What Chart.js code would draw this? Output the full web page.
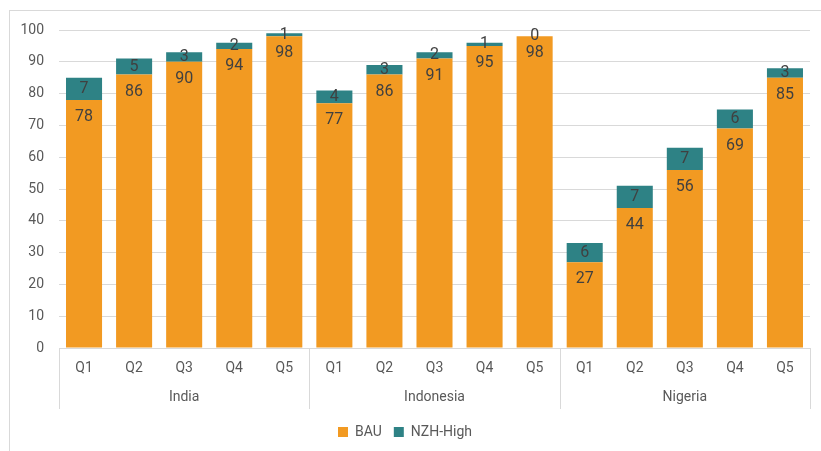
<!DOCTYPE html>
<html>
<head>
<meta charset="utf-8">
<script src="https://cdn.jsdelivr.net/npm/chart.js@4.4.1/dist/chart.umd.min.js"></script>
<style>
  html, body { margin: 0; padding: 0; background: #fff; }
  #wrap { position: relative; width: 821px; height: 451px; overflow: hidden; }
  #frame { position: absolute; left: 9px; top: 10px; width: 830px; height: 460px; border: 1px solid #d9d9d9; box-sizing: border-box; }
  canvas { position: absolute; left: 0; top: 0; }
</style>
</head>
<body>
<div id="wrap">
  <div id="frame"></div>
  <canvas id="chart" width="821" height="451"></canvas>
</div>
<script>
const countries = ['India', 'Indonesia', 'Nigeria'];
const quintiles = ['Q1', 'Q2', 'Q3', 'Q4', 'Q5'];
const bauValues = [78, 86, 90, 94, 98, 77, 86, 91, 95, 98, 27, 44, 56, 69, 85];
const nzhValues = [7, 5, 3, 2, 1, 4, 3, 2, 1, 0, 6, 7, 7, 6, 3];
const yTicks = [0, 10, 20, 30, 40, 50, 60, 70, 80, 90, 100];

const labels = [];
countries.forEach(() => quintiles.forEach(q => labels.push(q)));

const FONT = 'Roboto, "Liberation Sans", sans-serif';
const GRID = '#d9d9d9';

// value labels: BAU near the top of its bar, NZH-High centred in its segment
const valueLabels = {
  id: 'valueLabels',
  afterDatasetsDraw(chart) {
    const ctx = chart.ctx;
    ctx.save();
    ctx.font = '16px ' + FONT;
    ctx.fillStyle = '#404040';
    ctx.textAlign = 'center';
    ctx.textBaseline = 'middle';
    chart.data.datasets.forEach((ds, i) => {
      const meta = chart.getDatasetMeta(i);
      meta.data.forEach((bar, j) => {
        const v = ds.data[j];
        let y;
        if (i === 0) {
          y = bar.y + 17;
        } else {
          y = (bar.y + bar.base) / 2;
        }
        ctx.fillText(String(v), bar.x, y);
      });
    });
    ctx.restore();
  }
};

// country row under the quintile ticks, with dividers between groups
const groupAxis = {
  id: 'groupAxis',
  afterDraw(chart) {
    const ctx = chart.ctx;
    const x = chart.scales.x;
    const area = chart.chartArea;
    const step = x.getPixelForValue(1) - x.getPixelForValue(0);
    const top = area.bottom;
    const bottom = area.bottom + 61;
    ctx.save();
    ctx.strokeStyle = GRID;
    ctx.lineWidth = 1;
    for (let g = 0; g <= countries.length; g++) {
      const px = Math.round(x.getPixelForValue(g * quintiles.length) - step / 2) + 0.5;
      ctx.beginPath();
      ctx.moveTo(px, top);
      ctx.lineTo(px, bottom);
      ctx.stroke();
    }
    ctx.font = '14px ' + FONT;
    ctx.fillStyle = '#595959';
    ctx.textAlign = 'center';
    ctx.textBaseline = 'middle';
    countries.forEach((c, g) => {
      const a = x.getPixelForValue(g * quintiles.length);
      const b = x.getPixelForValue(g * quintiles.length + quintiles.length - 1);
      ctx.fillText(c, (a + b) / 2, area.bottom + 49);
    });
    ctx.restore();
  }
};

new Chart(document.getElementById('chart'), {
  type: 'bar',
  data: {
    labels: labels,
    datasets: [
      { label: 'BAU', data: bauValues, backgroundColor: '#f29a22' },
      { label: 'NZH-High', data: nzhValues, backgroundColor: '#2e8285' }
    ]
  },
  options: {
    responsive: false,
    animation: false,
    devicePixelRatio: 1,
    datasets: { bar: { categoryPercentage: 1, barPercentage: 0.72 } },
    layout: { padding: { left: 0, right: 11, top: 30, bottom: 2 } },
    scales: {
      x: {
        stacked: true,
        grid: { display: false, drawTicks: false },
        border: { color: GRID },
        ticks: { color: '#595959', font: { size: 14, family: FONT }, padding: 12 },
        afterFit: s => { s.height = 65; }
      },
      y: {
        stacked: true,
        min: 0,
        max: 100,
        afterBuildTicks: s => { s.ticks = yTicks.map(v => ({ value: v })); },
        grid: { color: GRID, lineWidth: 1, drawTicks: false },
        border: { display: false },
        ticks: { color: '#595959', font: { size: 14, family: FONT }, padding: 15 },
        afterFit: s => { s.width = 59; }
      }
    },
    plugins: {
      legend: {
        position: 'bottom',
        labels: {
          color: '#595959',
          font: { size: 14, family: FONT },
          boxWidth: 10,
          boxHeight: 10,
          padding: 12
        }
      },
      tooltip: { enabled: false }
    }
  },
  plugins: [valueLabels, groupAxis]
});
</script>
</body>
</html>
